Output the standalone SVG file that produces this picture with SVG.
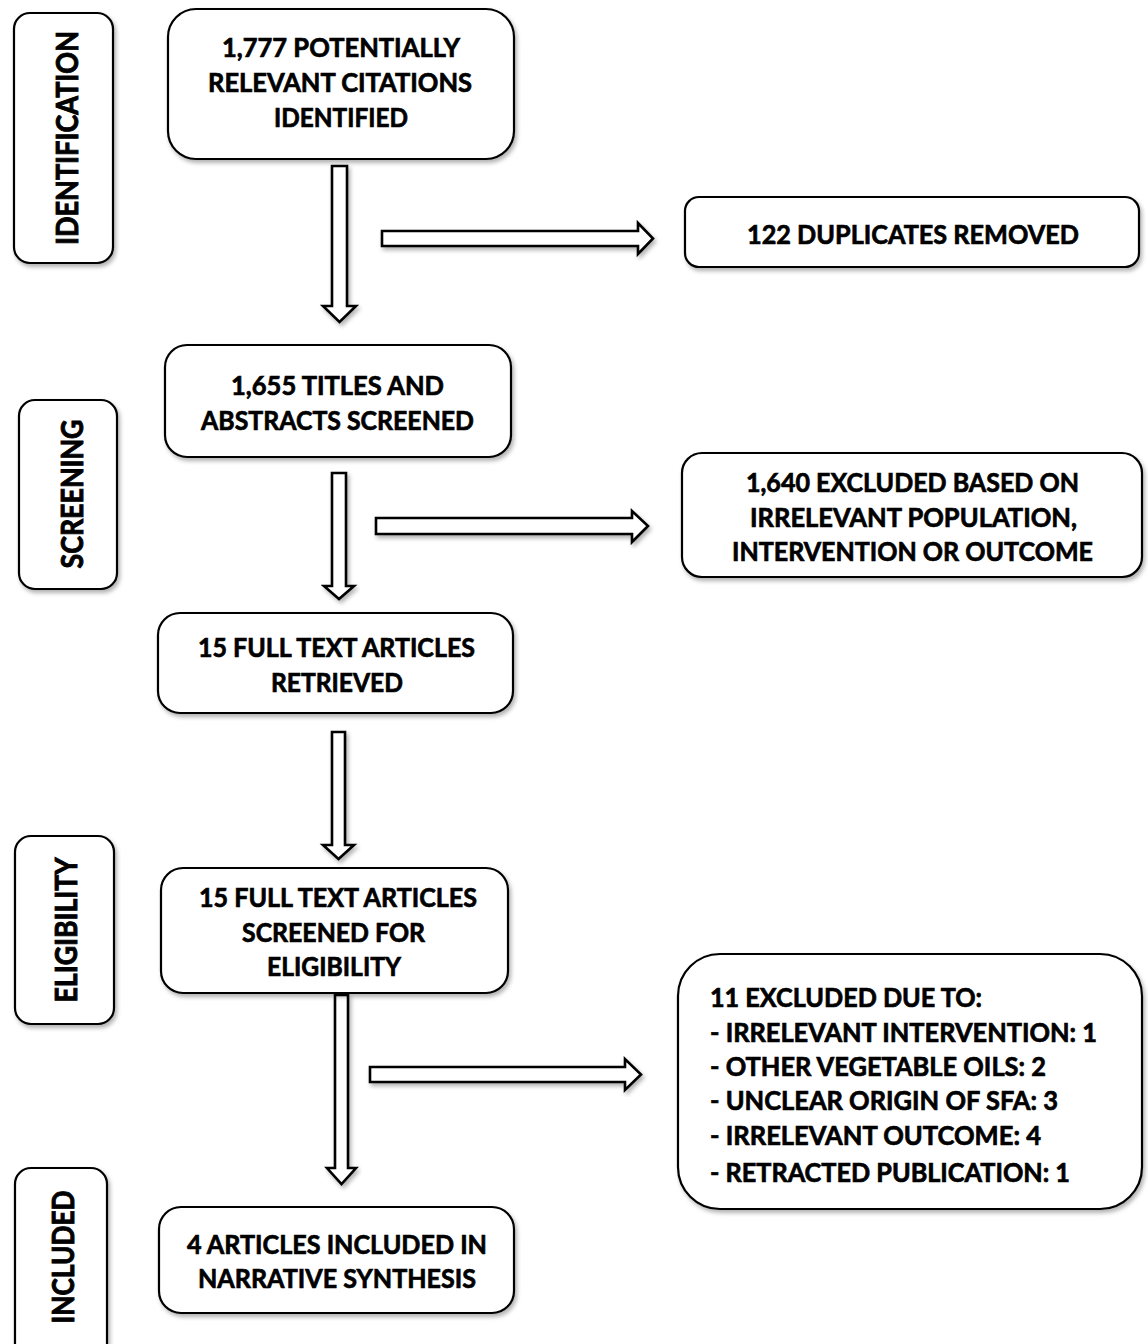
<svg xmlns="http://www.w3.org/2000/svg" width="1148" height="1344" viewBox="0 0 1148 1344">
<defs>
<filter id="sh" x="-10%" y="-10%" width="130%" height="130%">
<feDropShadow dx="2" dy="3" stdDeviation="2" flood-color="#000" flood-opacity="0.3"/>
</filter>
</defs>
<style>
.box{fill:#fff;stroke:#000;stroke-width:2.2;filter:url(#sh)}
.arr{fill:#fff;stroke:#000;stroke-width:2.6;stroke-linejoin:miter;filter:url(#sh)}
.t{font-family:"Lato","Liberation Sans",sans-serif;font-weight:700;font-size:27px;fill:#000;stroke:#000;stroke-width:0.7;text-anchor:middle}
.tl{font-family:"Lato","Liberation Sans",sans-serif;font-weight:700;font-size:27px;fill:#000;stroke:#000;stroke-width:0.7}
.side{font-family:"Lato","Liberation Sans",sans-serif;font-weight:700;font-size:30px;fill:#000;stroke:#000;stroke-width:0.9;text-anchor:middle}
</style>
<rect width="1148" height="1344" fill="#fff"/>

<g id="connectors">
<polygon class="arr" points="332,166 347,166 347,306 356,306 339.5,322 323,306 332,306"/>
<polygon class="arr" points="382,231 638,231 638,223 653,238.5 638,254 638,246 382,246"/>
<polygon class="arr" points="332,473 346,473 346,586 354,586 339,599 324,586 332,586"/>
<polygon class="arr" points="376,518 632,518 632,511 648,526 632,542 632,534 376,534"/>
<polygon class="arr" points="332,732 345,732 345,845 354,845 338.5,859 323,845 332,845"/>
<polygon class="arr" points="335,995 348,995 348,1168 356,1168 341.5,1184 327,1168 335,1168"/>
<polygon class="arr" points="370,1067 625,1067 625,1059 641,1074.5 625,1090 625,1082 370,1082"/>
</g>

<g id="stage-identification">
<rect class="box" x="14" y="13" width="99" height="250" rx="16"/>
<text class="side" transform="translate(78,138) rotate(-90)" textLength="214" lengthAdjust="spacingAndGlyphs">IDENTIFICATION</text>
</g>
<g id="stage-screening">
<rect class="box" x="19" y="400" width="98" height="189" rx="16"/>
<text class="side" transform="translate(83,494) rotate(-90)" textLength="149" lengthAdjust="spacingAndGlyphs">SCREENING</text>
</g>
<g id="stage-eligibility">
<rect class="box" x="15" y="836" width="99" height="188" rx="16"/>
<text class="side" transform="translate(77,930) rotate(-90)" textLength="145" lengthAdjust="spacingAndGlyphs">ELIGIBILITY</text>
</g>
<g id="stage-included">
<rect class="box" x="15" y="1168" width="92" height="200" rx="16"/>
<text class="side" transform="translate(74,1257) rotate(-90)" textLength="133" lengthAdjust="spacingAndGlyphs">INCLUDED</text>
</g>

<g id="n-identified">
<rect class="box" x="168" y="9" width="346" height="150" rx="28"/>
<text class="t" x="341" y="57" textLength="238" lengthAdjust="spacingAndGlyphs">1,777 POTENTIALLY</text>
<text class="t" x="340" y="92" textLength="264" lengthAdjust="spacingAndGlyphs">RELEVANT CITATIONS</text>
<text class="t" x="341" y="127" textLength="134" lengthAdjust="spacingAndGlyphs">IDENTIFIED</text>
</g>

<g id="n-duplicates">
<rect class="box" x="685" y="197" width="454" height="70" rx="14"/>
<text class="t" x="913" y="244" textLength="332" lengthAdjust="spacingAndGlyphs">122 DUPLICATES REMOVED</text>
</g>

<g id="n-screened">
<rect class="box" x="165" y="345" width="346" height="112" rx="22"/>
<text class="t" x="337.5" y="395" textLength="213" lengthAdjust="spacingAndGlyphs">1,655 TITLES AND</text>
<text class="t" x="337.5" y="430" textLength="273" lengthAdjust="spacingAndGlyphs">ABSTRACTS SCREENED</text>
</g>

<g id="n-excluded-1640">
<rect class="box" x="682" y="453" width="460" height="124" rx="20"/>
<text class="t" x="912.5" y="492" textLength="333" lengthAdjust="spacingAndGlyphs">1,640 EXCLUDED BASED ON</text>
<text class="t" x="913.5" y="527" textLength="327" lengthAdjust="spacingAndGlyphs">IRRELEVANT POPULATION,</text>
<text class="t" x="912.5" y="561" textLength="361" lengthAdjust="spacingAndGlyphs">INTERVENTION OR OUTCOME</text>
</g>

<g id="n-retrieved">
<rect class="box" x="158" y="613" width="355" height="100" rx="22"/>
<text class="t" x="336.5" y="657" textLength="277" lengthAdjust="spacingAndGlyphs">15 FULL TEXT ARTICLES</text>
<text class="t" x="337" y="692" textLength="132" lengthAdjust="spacingAndGlyphs">RETRIEVED</text>
</g>

<g id="n-eligibility">
<rect class="box" x="161" y="868" width="347" height="125" rx="22"/>
<text class="t" x="338" y="907" textLength="278" lengthAdjust="spacingAndGlyphs">15 FULL TEXT ARTICLES</text>
<text class="t" x="333.5" y="942" textLength="183" lengthAdjust="spacingAndGlyphs">SCREENED FOR</text>
<text class="t" x="334" y="976" textLength="134" lengthAdjust="spacingAndGlyphs">ELIGIBILITY</text>
</g>

<g id="n-excluded-11">
<rect class="box" x="678" y="954" width="464" height="255" rx="42"/>
<text class="tl" x="710" y="1007" textLength="272" lengthAdjust="spacingAndGlyphs">11 EXCLUDED DUE TO:</text>
<text class="tl" x="710" y="1042" textLength="387" lengthAdjust="spacingAndGlyphs">- IRRELEVANT INTERVENTION: 1</text>
<text class="tl" x="710" y="1076" textLength="336" lengthAdjust="spacingAndGlyphs">- OTHER VEGETABLE OILS: 2</text>
<text class="tl" x="710" y="1110" textLength="348" lengthAdjust="spacingAndGlyphs">- UNCLEAR ORIGIN OF SFA: 3</text>
<text class="tl" x="710" y="1145" textLength="331" lengthAdjust="spacingAndGlyphs">- IRRELEVANT OUTCOME: 4</text>
<text class="tl" x="710" y="1182" textLength="360" lengthAdjust="spacingAndGlyphs">- RETRACTED PUBLICATION: 1</text>
</g>

<g id="n-included">
<rect class="box" x="159" y="1207" width="355" height="106" rx="22"/>
<text class="t" x="337" y="1254" textLength="300" lengthAdjust="spacingAndGlyphs">4 ARTICLES INCLUDED IN</text>
<text class="t" x="337" y="1288" textLength="278" lengthAdjust="spacingAndGlyphs">NARRATIVE SYNTHESIS</text>
</g>
</svg>
